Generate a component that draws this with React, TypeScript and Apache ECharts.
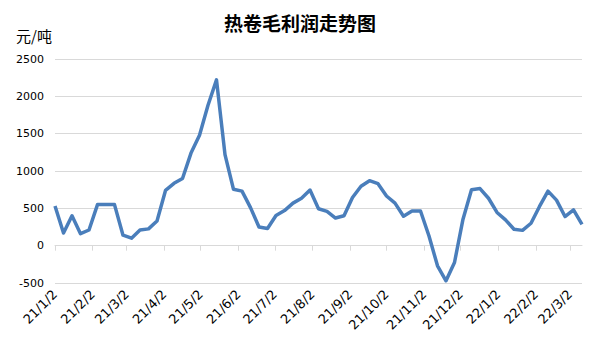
import React, { useEffect, useRef } from "react";
import * as echarts from "echarts";

const title = "热卷毛利润走势图";
const unit = "元/吨";
const startDate = [2021, 1, 2];
const endDate = [2022, 3, 12];
const weekStep = 7;
const profit = [
  530, 170, 400, 160, 210, 550, 550, 550, 140, 100, 210, 225, 330, 740, 835, 900,
  1240, 1480, 1880, 2220, 1220, 755, 730, 510, 250, 230, 405, 470, 570, 635, 745,
  495, 460, 370, 400, 645, 795, 870, 830, 665, 570, 395, 465, 465, 130, -270, -470,
  -225, 355, 750, 765, 635, 445, 345, 220, 205, 300, 525, 730, 610, 390, 480, 285,
];
const monthTicks = [
  "21/1/2", "21/2/2", "21/3/2", "21/4/2", "21/5/2", "21/6/2", "21/7/2", "21/8/2",
  "21/9/2", "21/10/2", "21/11/2", "21/12/2", "22/1/2", "22/2/2", "22/3/2",
];
const yMin = -500;
const yMax = 2500;
const yStep = 500;

function buildDays(): string[] {
  const out: string[] = [];
  const d = new Date(Date.UTC(startDate[0], startDate[1] - 1, startDate[2]));
  const end = Date.UTC(endDate[0], endDate[1] - 1, endDate[2]);
  while (d.getTime() <= end) {
    out.push(`${String(d.getUTCFullYear()).slice(2)}/${d.getUTCMonth() + 1}/${d.getUTCDate()}`);
    d.setUTCDate(d.getUTCDate() + 1);
  }
  return out;
}

export default function App() {
  const ref = useRef<HTMLDivElement>(null);
  useEffect(() => {
    if (!ref.current) return;
    const chart = echarts.init(ref.current, null, { renderer: "svg" });
    const days = buildDays();
    const isTick = (_i: number, v: string) => monthTicks.includes(v);
    const font = "'DejaVu Sans', sans-serif";
    chart.setOption({
      animation: false,
      backgroundColor: "#ffffff",
      title: {
        text: title,
        left: "center",
        top: 8,
        textStyle: { fontFamily: "'Noto Sans CJK SC'", fontSize: 19, fontWeight: "bold", color: "#000" },
      },
      graphic: [
        {
          type: "text",
          left: 16,
          top: 28,
          style: { text: unit, fontFamily: "'Noto Sans CJK SC'", fontSize: 15, fill: "#000" },
        },
      ],
      grid: { left: 55, right: 18, top: 59, bottom: 77, containLabel: false },
      xAxis: [
        {
          type: "category",
          data: days,
          boundaryGap: false,
          position: "bottom",
          axisLine: { onZero: true, lineStyle: { color: "#d9d9d9", width: 1 } },
          axisTick: { show: true, interval: isTick, length: 5, lineStyle: { color: "#d9d9d9" } },
          axisLabel: { show: false },
          splitLine: { show: false },
        },
        {
          type: "category",
          data: days,
          boundaryGap: false,
          position: "bottom",
          axisLine: { show: false, onZero: false },
          axisTick: { show: false },
          axisLabel: {
            show: true,
            interval: isTick,
            rotate: 45,
            margin: 9,
            fontFamily: font,
            fontSize: 13,
            color: "#000",
          },
          splitLine: { show: false },
        },
      ],
      yAxis: {
        type: "value",
        min: yMin,
        max: yMax,
        interval: yStep,
        axisLine: { show: false },
        axisTick: { show: false },
        axisLabel: {
          margin: 11,
          fontFamily: font,
          fontSize: 11,
          color: "#000",
          formatter: (v: number) => String(v),
        },
        splitLine: { lineStyle: { color: "#d9d9d9", width: 1 } },
      },
      series: [
        {
          type: "line",
          xAxisIndex: 0,
          data: profit.map((v, i) => [i * weekStep, v]),
          showSymbol: false,
          symbol: "none",
          lineStyle: { color: "#4a7ebb", width: 3.5, join: "round" },
          itemStyle: { color: "#4a7ebb" },
        },
      ],
    });
    return () => chart.dispose();
  }, []);
  return <div ref={ref} style={{ width: 600, height: 360, position: "absolute", left: 0, top: 0 }} />;
}
